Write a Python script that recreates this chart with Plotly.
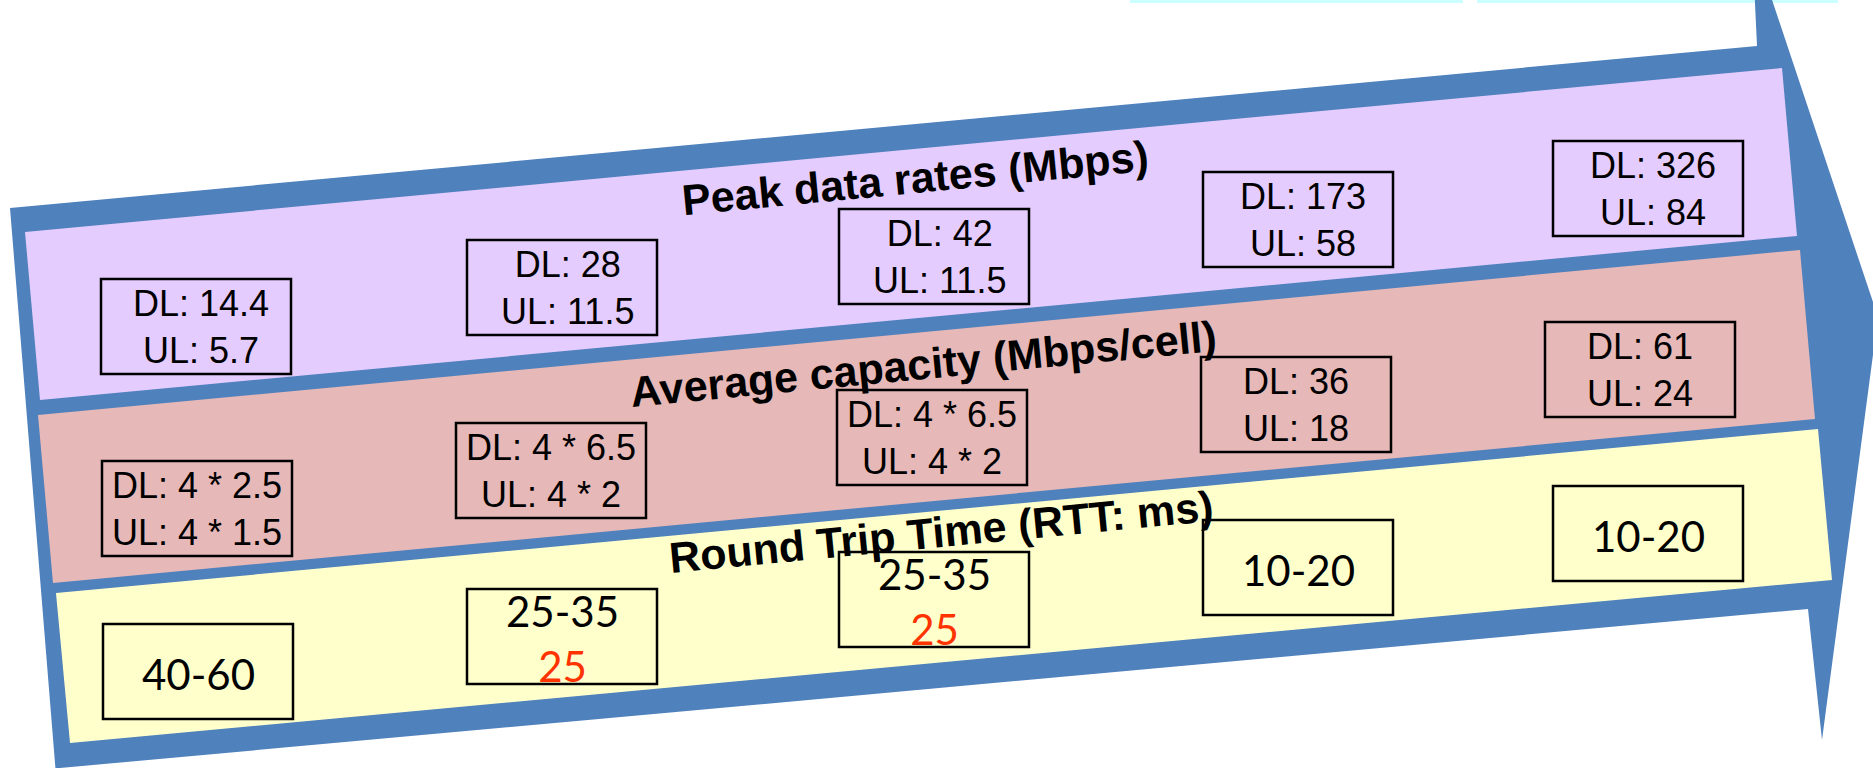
import plotly.graph_objects as go

# ---------------- data ----------------
row_titles = ["Peak data rates (Mbps)", "Average capacity (Mbps/cell)", "Round Trip Time (RTT: ms)"]
peak_dl = ["14.4", "28", "42", "173", "326"]
peak_ul = ["5.7", "11.5", "11.5", "58", "84"]
avg_dl = ["4 * 2.5", "4 * 6.5", "4 * 6.5", "36", "61"]
avg_ul = ["4 * 1.5", "4 * 2", "4 * 2", "18", "24"]
rtt_range = ["40-60", "25-35", "25-35", "10-20", "10-20"]
rtt_target = ["", "25", "25", "", ""]

# ---------------- layout geometry ----------------
W, H = 1873, 768
BOX_W, BOX_H = 190, 95
peak_box_xy = [(101, 279), (467, 240), (839, 209), (1203, 172), (1553, 141)]
avg_box_xy = [(102, 461), (456, 423), (837, 390), (1201, 357), (1545, 322)]
rtt_box_xy = [(103, 624), (467, 589), (839, 552), (1203, 520), (1553, 486)]

arrow_poly = [(10, 208), (1757, 46), (1752, -60), (1878, 317), (1822, 740), (1808, 609), (60, 768), (58, 800)]
band_polys = [
    [(25, 232), (1782, 68), (1797, 236), (40, 400)],
    [(38, 415), (1800, 250), (1815, 419), (53, 583)],
    [(56, 593), (1818, 429), (1832, 580), (70, 743)],
]
band_colors = ["#E5CCFF", "#E6B8B7", "#FFFFCC"]
title_pos = [(915, 178), (923, 364), (941, 532)]
TITLE_ANGLE = -5.5
BLUE = "#4F81BD"
RED = "#FF3300"
cyan_strips = [(1130, 1463), (1477, 1838)]


def path_of(pts):
    return "M " + " L ".join(f"{x},{y}" for x, y in pts) + " Z"


fig = go.Figure()
# invisible trace to establish axes
fig.add_trace(go.Scatter(x=[0, W], y=[0, H], mode="markers", marker=dict(opacity=0), hoverinfo="skip", showlegend=False))

shapes = []
for x0, x1 in cyan_strips:
    shapes.append(dict(type="rect", xref="x", yref="y", x0=x0, x1=x1, y0=0, y1=3,
                       fillcolor="#CCFFFF", line=dict(width=0), layer="below"))
shapes.append(dict(type="path", xref="x", yref="y", path=path_of(arrow_poly),
                   fillcolor=BLUE, line=dict(width=0), layer="below"))
for poly, col in zip(band_polys, band_colors):
    shapes.append(dict(type="path", xref="x", yref="y", path=path_of(poly),
                       fillcolor=col, line=dict(width=0), layer="below"))

annotations = []
box_font = dict(family="Liberation Sans, Arial", size=36, color="black")
rtt_font = dict(family="Lato", size=42, color="black")

for rows, fills in ((peak_box_xy, band_colors[0]), (avg_box_xy, band_colors[1]), (rtt_box_xy, band_colors[2])):
    for (x, y) in rows:
        shapes.append(dict(type="rect", xref="x", yref="y", x0=x, x1=x + BOX_W, y0=y, y1=y + BOX_H,
                           fillcolor=fills, line=dict(color="black", width=2.5), layer="below"))

for i, (x, y) in enumerate(peak_box_xy):
    annotations.append(dict(x=x + BOX_W / 2 + 5, y=y + BOX_H / 2, xref="x", yref="y", showarrow=False,
                            text=f"DL: {peak_dl[i]}<br>UL: {peak_ul[i]}", font=box_font,
                            xanchor="center", yanchor="middle", align="center"))
for i, (x, y) in enumerate(avg_box_xy):
    annotations.append(dict(x=x + BOX_W / 2, y=y + BOX_H / 2, xref="x", yref="y", showarrow=False,
                            text=f"DL: {avg_dl[i]}<br>UL: {avg_ul[i]}", font=box_font,
                            xanchor="center", yanchor="middle", align="center"))
for i, (x, y) in enumerate(rtt_box_xy):
    if rtt_target[i]:
        txt = f"{rtt_range[i]}<br><span style='color:{RED}'>{rtt_target[i]}</span>"
    else:
        txt = rtt_range[i]
    annotations.append(dict(x=x + BOX_W / 2, y=y + BOX_H / 2 + 2, xref="x", yref="y", showarrow=False,
                            text=txt, font=rtt_font, xanchor="center", yanchor="middle", align="center"))

for t, (x, y) in zip(row_titles, title_pos):
    annotations.append(dict(x=x, y=y, xref="x", yref="y", showarrow=False, text=f"<b>{t}</b>",
                            font=dict(family="Liberation Sans, Arial", size=43, color="black"),
                            textangle=TITLE_ANGLE, xanchor="center", yanchor="middle"))

fig.update_layout(
    width=W, height=H, margin=dict(l=0, r=0, t=0, b=0),
    paper_bgcolor="white", plot_bgcolor="white",
    xaxis=dict(range=[0, W], visible=False, fixedrange=True),
    yaxis=dict(range=[H, 0], visible=False, fixedrange=True),
    shapes=shapes, annotations=annotations, showlegend=False,
)
fig.write_html("out.html", config={"displayModeBar": False},
               post_script="document.body.style.margin='0px';document.body.style.overflow='hidden';")
